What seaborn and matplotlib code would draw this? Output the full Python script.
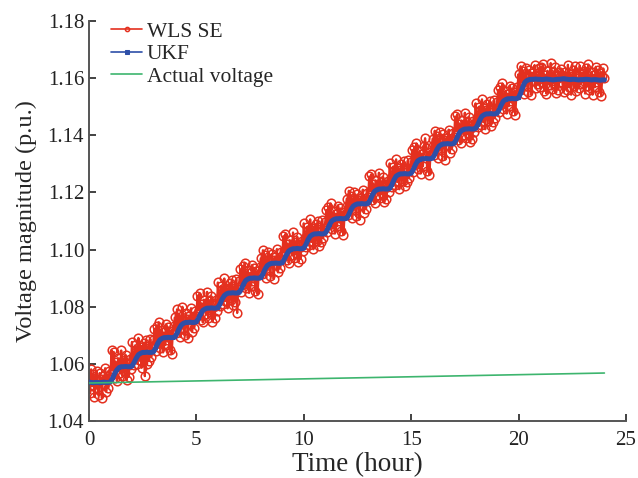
import numpy as np
import matplotlib
matplotlib.use("Agg")
import matplotlib.pyplot as plt
import pandas as pd
import seaborn as sns

# ---------------- data ----------------
# WLS SE estimate, one value every 0.05 h (one row per hour)
wls_time = [round(0.05 * i, 2) for i in range(481)]
wls_volt = [
    1.0553, 1.0497, 1.0581, 1.0523, 1.0563, 1.0484, 1.0543, 1.0575, 1.0513, 1.0491, 1.0568, 1.0547, 1.0480, 1.0556, 1.0530, 1.0585, 1.0503, 1.0550, 1.0517, 1.0574,
    1.0563, 1.0648, 1.0582, 1.0642, 1.0550, 1.0606, 1.0540, 1.0620, 1.0593, 1.0569, 1.0647, 1.0557, 1.0614, 1.0576, 1.0632, 1.0543, 1.0600, 1.0554, 1.0617, 1.0581,
    1.0677, 1.0624, 1.0595, 1.0665, 1.0649, 1.0601, 1.0691, 1.0612, 1.0659, 1.0586, 1.0653, 1.0674, 1.0557, 1.0685, 1.0598, 1.0646, 1.0610, 1.0688, 1.0625, 1.0662,
    1.0682, 1.0723, 1.0644, 1.0734, 1.0672, 1.0746, 1.0656, 1.0696, 1.0720, 1.0640, 1.0710, 1.0666, 1.0738, 1.0683, 1.0728, 1.0648, 1.0716, 1.0635, 1.0704, 1.0732,
    1.0763, 1.0707, 1.0791, 1.0733, 1.0773, 1.0694, 1.0753, 1.0800, 1.0723, 1.0701, 1.0778, 1.0757, 1.0690, 1.0766, 1.0740, 1.0795, 1.0713, 1.0760, 1.0727, 1.0784,
    1.0768, 1.0839, 1.0787, 1.0847, 1.0755, 1.0811, 1.0745, 1.0825, 1.0798, 1.0774, 1.0852, 1.0762, 1.0819, 1.0781, 1.0837, 1.0748, 1.0805, 1.0759, 1.0822, 1.0786,
    1.0885, 1.0832, 1.0803, 1.0873, 1.0857, 1.0809, 1.0899, 1.0820, 1.0867, 1.0794, 1.0861, 1.0882, 1.0824, 1.0893, 1.0806, 1.0854, 1.0818, 1.0896, 1.0778, 1.0870,
    1.0890, 1.0931, 1.0852, 1.0942, 1.0880, 1.0954, 1.0864, 1.0904, 1.0928, 1.0848, 1.0918, 1.0874, 1.0946, 1.0891, 1.0936, 1.0856, 1.0924, 1.0843, 1.0912, 1.0940,
    1.0970, 1.0914, 1.0998, 1.0940, 1.0980, 1.0901, 1.0960, 1.0992, 1.0930, 1.0908, 1.0985, 1.0964, 1.0897, 1.0973, 1.0947, 1.1002, 1.0920, 1.0967, 1.0934, 1.0991,
    1.0976, 1.1047, 1.0995, 1.1055, 1.0963, 1.1019, 1.0953, 1.1033, 1.1006, 1.0982, 1.1060, 1.0970, 1.1027, 1.0989, 1.1045, 1.0956, 1.1013, 1.0967, 1.1030, 1.0994,
    1.1092, 1.1039, 1.1010, 1.1080, 1.1064, 1.1016, 1.1106, 1.1027, 1.1074, 1.1001, 1.1068, 1.1089, 1.1031, 1.1100, 1.1013, 1.1061, 1.1025, 1.1103, 1.1040, 1.1077,
    1.1098, 1.1139, 1.1060, 1.1150, 1.1088, 1.1162, 1.1072, 1.1112, 1.1136, 1.1056, 1.1126, 1.1082, 1.1154, 1.1099, 1.1144, 1.1064, 1.1132, 1.1051, 1.1120, 1.1148,
    1.1178, 1.1122, 1.1206, 1.1148, 1.1188, 1.1109, 1.1168, 1.1200, 1.1138, 1.1116, 1.1193, 1.1172, 1.1105, 1.1181, 1.1155, 1.1210, 1.1128, 1.1175, 1.1142, 1.1199,
    1.1185, 1.1256, 1.1204, 1.1264, 1.1172, 1.1228, 1.1162, 1.1242, 1.1215, 1.1191, 1.1269, 1.1179, 1.1236, 1.1198, 1.1254, 1.1165, 1.1222, 1.1176, 1.1239, 1.1203,
    1.1302, 1.1249, 1.1220, 1.1290, 1.1274, 1.1226, 1.1316, 1.1237, 1.1284, 1.1211, 1.1278, 1.1299, 1.1241, 1.1310, 1.1223, 1.1271, 1.1235, 1.1313, 1.1250, 1.1287,
    1.1308, 1.1349, 1.1270, 1.1360, 1.1298, 1.1372, 1.1282, 1.1322, 1.1346, 1.1266, 1.1336, 1.1292, 1.1364, 1.1390, 1.1354, 1.1274, 1.1342, 1.1261, 1.1330, 1.1358,
    1.1388, 1.1332, 1.1416, 1.1358, 1.1398, 1.1319, 1.1378, 1.1410, 1.1348, 1.1326, 1.1403, 1.1382, 1.1315, 1.1391, 1.1365, 1.1420, 1.1338, 1.1385, 1.1352, 1.1409,
    1.1395, 1.1466, 1.1414, 1.1474, 1.1382, 1.1438, 1.1372, 1.1452, 1.1425, 1.1401, 1.1479, 1.1389, 1.1446, 1.1408, 1.1464, 1.1375, 1.1432, 1.1386, 1.1449, 1.1413,
    1.1512, 1.1459, 1.1430, 1.1500, 1.1484, 1.1436, 1.1526, 1.1447, 1.1494, 1.1421, 1.1488, 1.1509, 1.1451, 1.1520, 1.1433, 1.1481, 1.1445, 1.1523, 1.1460, 1.1497,
    1.1518, 1.1559, 1.1480, 1.1570, 1.1508, 1.1582, 1.1492, 1.1532, 1.1556, 1.1476, 1.1546, 1.1502, 1.1574, 1.1519, 1.1564, 1.1484, 1.1552, 1.1471, 1.1540, 1.1568,
    1.1614, 1.1558, 1.1642, 1.1584, 1.1624, 1.1545, 1.1604, 1.1636, 1.1574, 1.1552, 1.1629, 1.1608, 1.1541, 1.1617, 1.1591, 1.1646, 1.1564, 1.1611, 1.1578, 1.1635,
    1.1569, 1.1640, 1.1588, 1.1648, 1.1556, 1.1612, 1.1546, 1.1626, 1.1599, 1.1575, 1.1653, 1.1563, 1.1620, 1.1582, 1.1638, 1.1549, 1.1606, 1.1560, 1.1623, 1.1587,
    1.1633, 1.1580, 1.1551, 1.1621, 1.1605, 1.1557, 1.1647, 1.1568, 1.1615, 1.1542, 1.1609, 1.1630, 1.1572, 1.1641, 1.1554, 1.1602, 1.1566, 1.1644, 1.1581, 1.1618,
    1.1584, 1.1625, 1.1546, 1.1636, 1.1574, 1.1648, 1.1558, 1.1598, 1.1622, 1.1542, 1.1612, 1.1568, 1.1640, 1.1585, 1.1630, 1.1550, 1.1618, 1.1537, 1.1606, 1.1634,
    1.1600,
]

# UKF estimate, one value every 0.1 h
ukf_time = [round(0.1 * i, 1) for i in range(241)]
ukf_volt = [
    1.0536, 1.0535, 1.0534, 1.0535, 1.0535, 1.0534, 1.0535, 1.0536, 1.0535, 1.0535,
    1.0537, 1.0550, 1.0567, 1.0579, 1.0587, 1.0590, 1.0590, 1.0591, 1.0590, 1.0590,
    1.0592, 1.0605, 1.0620, 1.0632, 1.0637, 1.0640, 1.0640, 1.0641, 1.0640, 1.0640,
    1.0642, 1.0655, 1.0672, 1.0684, 1.0689, 1.0692, 1.0692, 1.0693, 1.0692, 1.0692,
    1.0694, 1.0707, 1.0724, 1.0736, 1.0742, 1.0745, 1.0745, 1.0746, 1.0745, 1.0745,
    1.0747, 1.0760, 1.0775, 1.0787, 1.0792, 1.0795, 1.0795, 1.0796, 1.0795, 1.0795,
    1.0797, 1.0810, 1.0827, 1.0839, 1.0845, 1.0848, 1.0848, 1.0849, 1.0848, 1.0848,
    1.0850, 1.0863, 1.0880, 1.0892, 1.0897, 1.0900, 1.0900, 1.0901, 1.0900, 1.0900,
    1.0902, 1.0915, 1.0932, 1.0944, 1.0949, 1.0952, 1.0952, 1.0953, 1.0952, 1.0952,
    1.0954, 1.0967, 1.0983, 1.0995, 1.1000, 1.1003, 1.1003, 1.1004, 1.1003, 1.1003,
    1.1005, 1.1018, 1.1035, 1.1047, 1.1052, 1.1055, 1.1055, 1.1056, 1.1055, 1.1055,
    1.1057, 1.1070, 1.1087, 1.1100, 1.1105, 1.1108, 1.1108, 1.1109, 1.1108, 1.1108,
    1.1110, 1.1123, 1.1140, 1.1152, 1.1157, 1.1160, 1.1160, 1.1161, 1.1160, 1.1160,
    1.1162, 1.1175, 1.1192, 1.1204, 1.1209, 1.1212, 1.1212, 1.1213, 1.1212, 1.1212,
    1.1214, 1.1227, 1.1244, 1.1257, 1.1262, 1.1265, 1.1265, 1.1266, 1.1265, 1.1265,
    1.1267, 1.1280, 1.1297, 1.1310, 1.1315, 1.1318, 1.1318, 1.1319, 1.1318, 1.1318,
    1.1320, 1.1333, 1.1350, 1.1362, 1.1367, 1.1370, 1.1370, 1.1371, 1.1370, 1.1370,
    1.1372, 1.1385, 1.1402, 1.1414, 1.1419, 1.1422, 1.1422, 1.1423, 1.1422, 1.1422,
    1.1424, 1.1437, 1.1454, 1.1467, 1.1472, 1.1475, 1.1475, 1.1476, 1.1475, 1.1475,
    1.1477, 1.1490, 1.1507, 1.1520, 1.1525, 1.1528, 1.1528, 1.1529, 1.1528, 1.1528,
    1.1531, 1.1548, 1.1570, 1.1586, 1.1592, 1.1595, 1.1596, 1.1596, 1.1597, 1.1596,
    1.1596, 1.1595, 1.1596, 1.1597, 1.1596, 1.1595, 1.1594, 1.1595, 1.1596, 1.1596,
    1.1597, 1.1598, 1.1597, 1.1596, 1.1595, 1.1596, 1.1596, 1.1595, 1.1594, 1.1595,
    1.1595, 1.1596, 1.1596, 1.1595, 1.1594, 1.1595, 1.1595, 1.1594, 1.1593, 1.1594,
    1.1594,
]

# actual voltage (straight line)
act_time = [0, 24]
act_volt = [1.0533, 1.0568]

x_ticks = [0, 5, 10, 15, 20, 25]
y_ticks = [1.04, 1.06, 1.08, 1.10, 1.12, 1.14, 1.16, 1.18]

# ---------------- plot ----------------
sns.set_style("ticks")
plt.rcParams['font.family'] = ['Liberation Serif', 'DejaVu Serif']

wls_df = pd.DataFrame({'t': wls_time, 'v': wls_volt})
ukf_df = pd.DataFrame({'t': ukf_time, 'v': ukf_volt})
act_df = pd.DataFrame({'t': act_time, 'v': act_volt})

fig = plt.figure(figsize=(6.38, 4.78), dpi=100)
ax = fig.add_axes([0.1395, 0.1192, 0.8415, 0.8368])

red = '#E4301F'
blue = '#2E4FA8'
green = '#3DB56E'

sns.lineplot(data=wls_df, x='t', y='v', ax=ax, color=red, linewidth=1.6,
             marker='o', markersize=6.2, markerfacecolor='none',
             markeredgecolor=red, markeredgewidth=1.1,
             estimator=None, errorbar=None, label='WLS SE', zorder=2)
sns.lineplot(data=ukf_df, x='t', y='v', ax=ax, color=blue, linewidth=3.6,
             marker='s', markersize=2, markeredgecolor=blue,
             estimator=None, errorbar=None, label='UKF', zorder=3)
sns.lineplot(data=act_df, x='t', y='v', ax=ax, color=green, linewidth=1.2,
             estimator=None, errorbar=None, label='Actual voltage', zorder=4)

ax.set_xlim(0, 25)
ax.set_ylim(1.04, 1.18)
ax.set_xticks(x_ticks)
ax.set_yticks(y_ticks)
ax.set_yticklabels(['%.2f' % v for v in y_ticks])
ax.set_xlabel('Time (hour)', fontsize=19.5, labelpad=2)
ax.set_ylabel('Voltage magnitude (p.u.)', fontsize=17.5, labelpad=8)
ax.tick_params(direction='in', length=5, width=1.2, labelsize=15,
               colors='#222222')
ax.tick_params(axis='x', pad=7)
for s in ['top', 'right']:
    ax.spines[s].set_visible(False)
for s in ['left', 'bottom']:
    ax.spines[s].set_color('#555555')
    ax.spines[s].set_linewidth(1.4)

leg = ax.legend(loc='upper left', frameon=False, fontsize=15.5,
                handlelength=1.45, handletextpad=0.2, labelspacing=0.12,
                borderaxespad=0.0, bbox_to_anchor=(0.025, 1.02))
for h in leg.legend_handles:
    h.set_markersize(3)
    h.set_linewidth(1.2)

fig.savefig('out.png', dpi=100)
